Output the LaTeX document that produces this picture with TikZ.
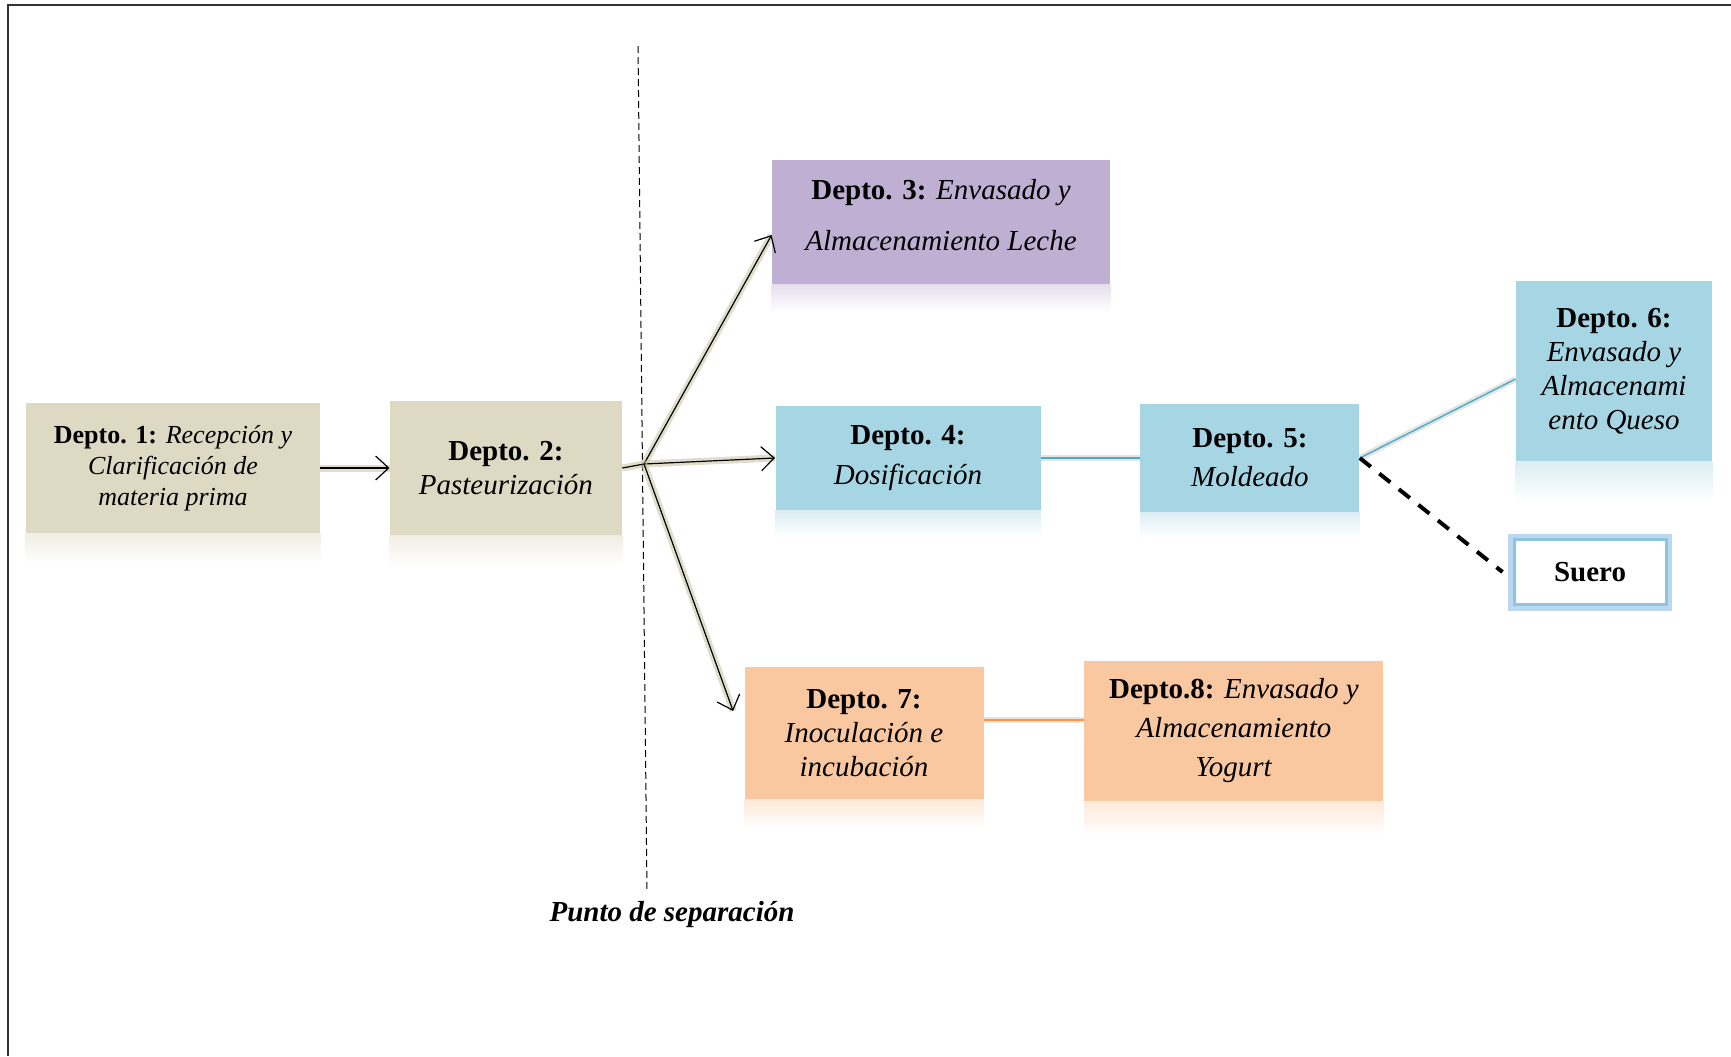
\documentclass[tikz,border=0pt]{standalone}
\usepackage{fontspec}
\setmainfont{Liberation Serif}
\usetikzlibrary{arrows.meta}

\definecolor{deptan}{HTML}{DDD9C3}
\definecolor{deplila}{HTML}{BFB0D3}
\definecolor{depblue}{HTML}{A6D5E3}
\definecolor{deporange}{HTML}{FAC8A0}
\definecolor{lineblue}{HTML}{4BACC6}
\definecolor{lineorange}{HTML}{F79646}
\definecolor{glowtan}{HTML}{C2BE98}
\definecolor{glowblue}{HTML}{BCD8F0}
\definecolor{edgeblue}{HTML}{8EC4DE}

\newcommand\deptfont[1]{\fontsize{14.5}{#1}\selectfont}

\tikzstyle{depto} = [rectangle, inner sep=2pt, align=center, text centered, font=\deptfont{17pt}]
\tikzstyle{tanbox} = [depto, fill=deptan]
\tikzstyle{lilabox} = [depto, fill=deplila]
\tikzstyle{bluebox} = [depto, fill=depblue]
\tikzstyle{orangebox} = [depto, fill=deporange]
\tikzstyle{suerobox} = [depto, fill=white, draw=edgeblue, line width=1.5pt, preaction={draw=glowblue, line width=6pt}]
\tikzstyle{arrow} = [line width=0.6pt, -{Straight Barb[length=6.5pt,width=12pt]}, preaction={draw=glowtan, line width=3.5pt, opacity=0.5, -}]
\tikzstyle{link} = [line width=0.7pt, preaction={draw=black!30, line width=3pt, opacity=0.35}]

\begin{document}
\begin{tikzpicture}[x=0.5pt, y=-0.5pt]
	\useasboundingbox (0,0) rectangle (1731,1056);
	
	\draw [line width=1pt, black!80] (1731,5) -- (8,5) -- (8,1056);
	
	% punto de separacion
	\coordinate (septop) at (638,46);
	\coordinate (sepbot) at (647,892);
	\coordinate (split) at (644,464);
	\draw [line width=0.5pt, dash pattern=on 3.5pt off 2pt] (septop) -- (sepbot);
	\node (sep) at (672,914) {\deptfont{17pt}\textbf{\textit{Punto de separación}}};
	
	\node (d1) [tanbox, minimum width=147pt, minimum height=65pt, font=\fontsize{13}{15.5}\selectfont] at (173,468) {\textbf{Depto. 1:} \textit{Recepción y}\\ \textit{Clarificación de}\\ \textit{materia prima}};
	\node (d2) [tanbox, minimum width=116pt, minimum height=67.5pt, right of=d1, xshift=138pt] {\textbf{Depto. 2:}\\ \textit{Pasteurización}};
	\node (d3) [lilabox, minimum width=169pt, minimum height=62pt, font=\deptfont{25.5pt}] at (941,222) {\textbf{Depto. 3:} \textit{Envasado y}\\ \textit{Almacenamiento Leche}\\[-18pt]};
	\node (d4) [bluebox, minimum width=132.5pt, minimum height=52.5pt, font=\deptfont{20pt}] at (908,458) {\textbf{Depto. 4:}\\ \textit{Dosificación}};
	\node (d5) [bluebox, minimum width=109.5pt, minimum height=54pt, font=\deptfont{19.5pt}, right of=d4, xshift=142.5pt] {\textbf{Depto. 5:}\\ \textit{Moldeado}};
	\node (d6) [bluebox, minimum width=98pt, minimum height=90.5pt] at (1614,371) {\textbf{Depto. 6:}\\ \textit{Envasado y}\\ \textit{Almacenami}\\ \textit{ento Queso}};
	\node (suero) [suerobox, minimum width=76pt, minimum height=32.5pt] at (1590,572) {\textbf{Suero}};
	\node (d7) [orangebox, minimum width=119.5pt, minimum height=66pt] at (864,733) {\textbf{Depto. 7:}\\ \textit{Inoculación e}\\ \textit{incubación}};
	\node (d8) [orangebox, minimum width=149.5pt, minimum height=70pt, font=\deptfont{19.5pt}, right of=d7, xshift=156.5pt, yshift=1pt] {\textbf{Depto.8:} \textit{Envasado y}\\ \textit{Almacenamiento}\\ \textit{Yogurt}};
	
	% reflejos
	\fill [top color=deptan!45, bottom color=white] (d1.south west) rectangle ([yshift=-15pt]d1.south east);
	\fill [top color=deptan!45, bottom color=white] (d2.south west) rectangle ([yshift=-15pt]d2.south east);
	\fill [top color=deplila!40, bottom color=white] (d3.south west) rectangle ([yshift=-14pt]d3.south east);
	\fill [top color=depblue!40, bottom color=white] (d4.south west) rectangle ([yshift=-13pt]d4.south east);
	\fill [top color=depblue!40, bottom color=white] (d5.south west) rectangle ([yshift=-12pt]d5.south east);
	\fill [top color=depblue!40, bottom color=white] (d6.south west) rectangle ([yshift=-20pt]d6.south east);
	\fill [top color=deporange!40, bottom color=white] (d7.south west) rectangle ([yshift=-15pt]d7.south east);
	\fill [top color=deporange!40, bottom color=white] (d8.south west) rectangle ([yshift=-17pt]d8.south east);
	
	%arrow
	\draw [arrow] (d1) -- (d2);
	\draw [arrow, -] (d2.east) -- (split);
	\draw [arrow] (split) -- ([yshift=-6.5pt]d3.west);
	\draw [arrow] (split) -- (d4.west);
	\draw [arrow] (split) -- ([xshift=-5.5pt,yshift=11pt]d7.west);
	\draw [link, draw=lineblue] (d4) -- (d5);
	\draw [link, draw=lineblue] (d5.east) -- ([yshift=-4pt]d6.west);
	\draw [line width=2pt, dash pattern=on 7pt off 5.5pt] (d5.east) -- ([xshift=-5pt]suero.west);
	\draw [link, draw=lineorange] ([yshift=6.5pt]d7.east) -- ([yshift=5.5pt]d8.west);
	
\end{tikzpicture}
\end{document}
